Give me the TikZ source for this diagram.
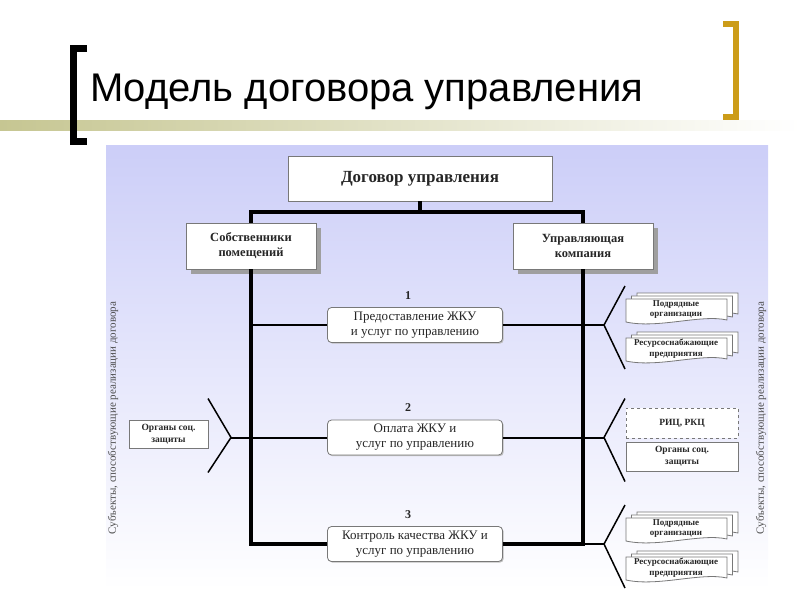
\documentclass[tikz,border=0pt]{standalone}
\usepackage{fontspec}
\setmainfont{Liberation Serif}
\newfontfamily\titlefont{Liberation Sans}
\usetikzlibrary{calc,shadows}
\definecolor{panelblue}{RGB}{204,206,248}
\definecolor{barolive}{RGB}{198,198,146}
\definecolor{gold}{RGB}{204,156,24}
\definecolor{boxgray}{RGB}{120,120,120}
\tikzset{
  box/.style={draw=boxgray, fill=white, line width=0.8pt, align=center, inner sep=0pt, text=black!85},
  mainbox/.style={box, minimum width=264, minimum height=45, font=\bfseries\fontsize{17}{20}\selectfont},
  partybox/.style={box, minimum width=130, minimum height=46, font=\bfseries\fontsize{12.5}{15}\selectfont,
    drop shadow={shadow xshift=5pt, shadow yshift=-5pt, fill=gray!75, opacity=1}},
  servbox/.style={box, rounded corners=4pt, minimum width=175, minimum height=35, font=\fontsize{13}{15}\selectfont,
    drop shadow={shadow xshift=1.2pt, shadow yshift=-1.2pt, fill=gray!50, opacity=1}},
  sidebox/.style={box, minimum width=79, minimum height=28, font=\bfseries\fontsize{9.5}{12}\selectfont},
  numlabel/.style={font=\bfseries\fontsize{12}{14}\selectfont, text=black!85},
  sidetext/.style={rotate=90, font=\fontsize{11}{13}\selectfont, text=black!70},
  docsheet/.style={draw=boxgray, fill=white, line width=0.8pt},
  doctext/.style={align=center, inner sep=0pt, font=\bfseries\fontsize{9}{10.5}\selectfont, text=black!85},
  thickline/.style={line width=3.5pt, black},
  thinline/.style={line width=2pt, black},
  forkline/.style={line width=1.5pt, black}
}
% stacked documents: name, x, y of the front sheet, text
\newcommand{\docstack}[4]{%
  \foreach \k in {2,1,0}{
    \begin{scope}[shift={({#2+5.5*\k},{#3-3*\k})}]
      \draw[docsheet] (0,0) -- (101,0) -- (101,21) .. controls (75,15) and (32,30) .. (0,23) -- cycle;
    \end{scope}
  }
  \node[doctext] (#1) at ({#2+50},{#3+10.5}) {#4};
}

\begin{document}
\begin{tikzpicture}[x=1pt,y=-1pt]
\useasboundingbox (0,0) rectangle (800,600);
% title
\shade[left color=barolive, right color=white] (0,120) rectangle (800,130);
\draw[line width=7pt, black] (87,48) -- (73.5,48) -- (73.5,141.5) -- (87,141.5);
\draw[line width=6pt, gold] (723,23.5) -- (736,23.5) -- (736,117) -- (723,117);
\node[anchor=base west, inner sep=0pt, font=\titlefont\fontsize{40}{44}\selectfont] (title) at (90,101) {Модель договора управления};
% panel
\shade[top color=panelblue, bottom color=white] (106,145) rectangle (768,590);
\node[sidetext] (subjL) at (113,418) {Субъекты, способствующие реализации договора};
\node[sidetext] (subjR) at (761,418) {Субъекты, способствующие реализации договора};
% boxes
\node[mainbox] (dogovor) at (420,178.5) {Договор управления};
\node[partybox] (sobstv) at (251,246) {Собственники\\помещений};
\node[partybox, minimum width=140] (uk) at (583,246) {Управляющая\\компания};
\node[numlabel] (num1) at (408,296) {1};
\node[numlabel] (num2) at (408,408) {2};
\node[numlabel] (num3) at (408,515) {3};
\node[servbox] (usl1) at (415,325) {Предоставление ЖКУ\\и услуг по управлению};
\node[servbox] (usl2) at (415,437.5) {Оплата ЖКУ и\\услуг по управлению};
\node[servbox] (usl3) at (415,544) {Контроль качества ЖКУ и\\услуг по управлению};
\node[sidebox] (organyL) at (168.5,434) {Органы соц.\\защиты};
\node[sidebox, dashed, minimum width=112, minimum height=30] (ric) at (682,423) {РИЦ, РКЦ};
\node[sidebox, minimum width=112, minimum height=29] (organyR) at (682,456.5) {Органы соц.\\защиты};
\docstack{podr1}{626}{299}{Подрядные\\организации}
\docstack{res1}{626}{338}{Ресурсоснабжающие\\предприятия}
\docstack{podr3}{626}{518}{Подрядные\\организации}
\docstack{res3}{626}{557}{Ресурсоснабжающие\\предприятия}
% connectors
\coordinate (barL) at (251,212);
\coordinate (barR) at (583,212);
\coordinate (botL) at (251,544);
\coordinate (botR) at (583,544);
\coordinate (rowL1) at (251,325);
\coordinate (fork1) at (604,325);
\coordinate (fork2) at (604,437.5);
\coordinate (fork3) at (604,544);
\coordinate (forkL) at (231,437.5);
\draw[thickline] (dogovor.south) -- (dogovor.south |- barL);
\draw[thickline] (sobstv.north) -- (barL) -- (barR) -- (uk.north);
\draw[thickline] (sobstv.south) -- (botL) -- (usl3.west);
\draw[thickline] (uk.south) -- (botR) -- (usl3.east);
\draw[thinline] (rowL1) -- (usl1.west);
\draw[thinline] (usl1.east) -- (fork1);
\draw[thinline] (forkL) -- (usl2.west);
\draw[thinline] (usl2.east) -- (fork2);
\draw[thinline] (botR) -- (fork3);
\foreach \f in {1,2,3}
  \draw[forkline] ($(fork\f)+(21,-39)$) -- (fork\f) -- ($(fork\f)+(21,44)$);
\draw[forkline] ($(forkL)+(-23,-39)$) -- (forkL) -- ($(forkL)+(-23,35)$);
\end{tikzpicture}
\end{document}
